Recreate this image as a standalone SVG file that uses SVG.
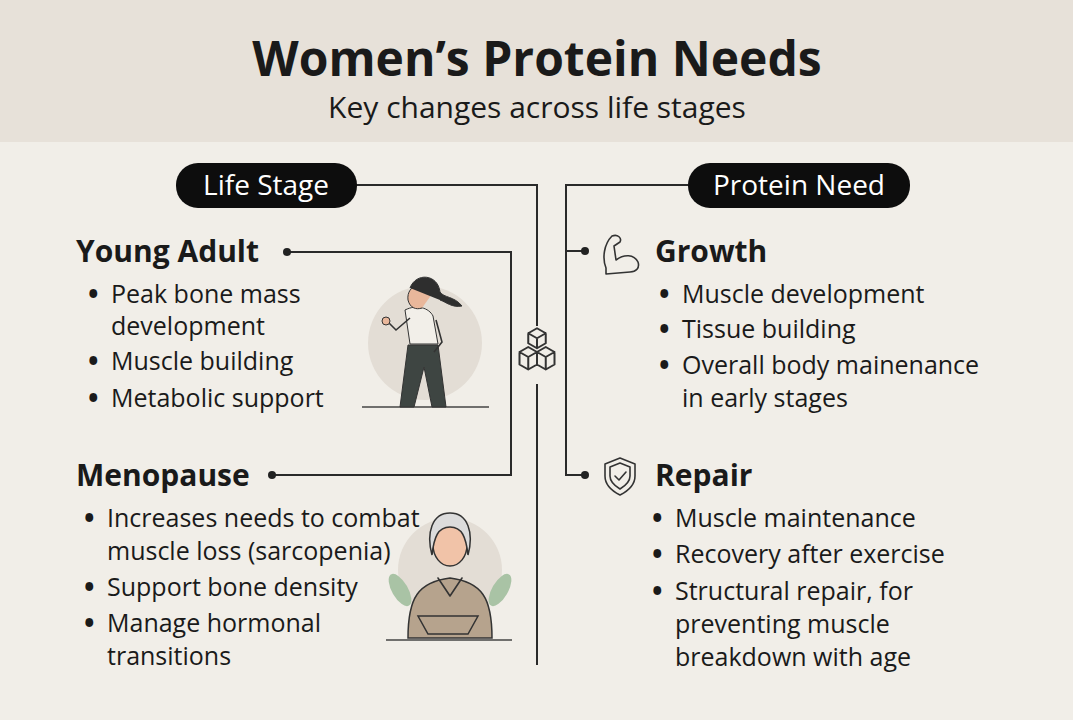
<svg xmlns="http://www.w3.org/2000/svg" width="1073" height="720" viewBox="0 0 1073 720">
<style>
text{font-family:"Open Sans","Liberation Sans",sans-serif;fill:#1a1a1a}
.h{font-size:30px;font-weight:700}
.b{font-size:25px}
.d{font-size:28px;font-weight:700}
.pill{font-size:28px;fill:#fff}
.ln{fill:none;stroke:#2a2a2a;stroke-width:2}
.ic{fill:none;stroke:#333;stroke-width:1.6;stroke-linejoin:round;stroke-linecap:round}
</style>
<rect width="1073" height="720" fill="#f1eee8"/>
<rect width="1073" height="142" fill="#e7e1d9"/>
<text x="537" y="76" text-anchor="middle" style="font-size:48px;font-weight:700">Women’s Protein Needs</text>
<text x="537" y="118" text-anchor="middle" style="font-size:30px">Key changes across life stages</text>
<g id="connectors">
<path class="ln" d="M355 185H537V326M537 384V665"/>
<path class="ln" d="M688 185H566V475H585M566 251H585"/>
<path class="ln" d="M287 252H511V475H272"/>
<circle cx="287" cy="252" r="4" fill="#222"/><circle cx="272" cy="475" r="4" fill="#222"/>
<circle cx="585" cy="251" r="4" fill="#222"/><circle cx="585" cy="475" r="4" fill="#222"/>
</g>
<g id="cube" class="ic" transform="translate(537 352) scale(1.25) translate(-537 -352)"><path d="M530 337l7-4 7 4v8l-7 4-7-4z M530 337l7 4 7-4M537 341v8 M523 352l7-4 7 4 7-4 7 4v10l-7 4-7-4-7 4-7-4z M523 352l7 4 7-4M530 356v10M537 352v10l7 4M544 356v10M537 352l7 4 7-4"/></g>
<g id="lifestage"><rect x="176" y="163" width="181" height="45" rx="22" fill="#0d0d0d"/><text class="pill" x="266" y="195" text-anchor="middle">Life Stage</text></g>
<g id="proteinneed"><rect x="688" y="163" width="222" height="45" rx="22" fill="#0d0d0d"/><text class="pill" x="799" y="195" text-anchor="middle">Protein Need</text></g>
<g id="young">
<text class="h" x="76" y="262">Young Adult</text>
<text class="d" x="88" y="304">•</text><text class="b" x="111" y="303">Peak bone mass</text>
<text class="b" x="111" y="335">development</text>
<text class="d" x="88" y="371">•</text><text class="b" x="111" y="370">Muscle building</text>
<text class="d" x="88" y="408">•</text><text class="b" x="111" y="407">Metabolic support</text>
<circle cx="425" cy="343" r="57" fill="#e3ddd5"/>
<line x1="362" y1="407" x2="489" y2="407" stroke="#444" stroke-width="1.5"/>
<path d="M405 310c12-6 24-2 28 6l5 28-28 0z" fill="#f2efe9" stroke="#333"/>
<path d="M408 345h30l8 62h-14l-8-40-10 40h-14z" fill="#3e4542" stroke="#333"/>
<path d="M432 294c-6-15-26-10-24 6 2 8 8 10 14 8" fill="#e9b79b" stroke="#333"/>
<path d="M410 288c6-16 28-14 30 4 4 6 14 4 22 14-10 2-16-4-22-6" fill="#2e2e2e" stroke="#333"/>
<path d="M410 318l-14 12-8-8M436 320l6 22-8 10" style="stroke:#333;fill:none;stroke-width:1.6"/>
<circle cx="386" cy="321" r="4" fill="#e9b79b" stroke="#333"/>
</g>
<g id="meno">
<text class="h" x="76" y="486">Menopause</text>
<text class="d" x="84" y="528">•</text><text class="b" x="107" y="527">Increases needs to combat</text>
<text class="b" x="107" y="560">muscle loss (sarcopenia)</text>
<text class="d" x="84" y="597">•</text><text class="b" x="107" y="596">Support bone density</text>
<text class="d" x="84" y="633">•</text><text class="b" x="107" y="632">Manage hormonal</text>
<text class="b" x="107" y="665">transitions</text>
<circle cx="450" cy="570" r="52" fill="#e3ddd5"/>
<ellipse cx="400" cy="590" rx="8" ry="18" fill="#a9c3a5" transform="rotate(-30 400 590)"/>
<ellipse cx="500" cy="590" rx="8" ry="18" fill="#a9c3a5" transform="rotate(30 500 590)"/>
<path d="M408 638c0-40 10-56 42-60 32 4 42 20 42 60z" fill="#b6a38d" stroke="#333" stroke-width="1.5"/>
<path d="M438 578l12 18 12-18" class="ic"/>
<path d="M418 616h60l-10 18h-40z" fill="#b6a38d" stroke="#333" stroke-width="1.5"/>
<ellipse cx="450" cy="545" rx="17" ry="21" fill="#f1c3a8" stroke="#333" stroke-width="1.5"/>
<path d="M432 555c-6-22 0-42 18-42 18 0 24 20 18 42-2-18-6-28-18-28-12 0-16 10-18 28z" fill="#dcdcdc" stroke="#333" stroke-width="1.5"/>
<line x1="386" y1="640" x2="512" y2="640" stroke="#444" stroke-width="1.5"/>
</g>
<g id="growth">
<path class="ic" d="M606 268c-4-10-2-24 6-32 6-2 10 2 8 6l-6 4 2 14c8-6 18-6 22 2 2 6-2 10-8 10l-24 2z"/>
<text class="h" x="655" y="262">Growth</text>
<text class="d" x="659" y="304">•</text><text class="b" x="682" y="303">Muscle development</text>
<text class="d" x="659" y="339">•</text><text class="b" x="682" y="338">Tissue building</text>
<text class="d" x="659" y="375">•</text><text class="b" x="682" y="374">Overall body mainenance</text>
<text class="b" x="682" y="407">in early stages</text>
</g>
<g id="repair">
<path class="ic" d="M620 458l15 6v12c0 9-7 15-15 19-8-4-15-10-15-19v-12z M620 463l10 4v9c0 6-5 10-10 13-5-3-10-7-10-13v-9z M615 476l4 4 7-8"/>
<text class="h" x="655" y="486">Repair</text>
<text class="d" x="652" y="528">•</text><text class="b" x="675" y="527">Muscle maintenance</text>
<text class="d" x="652" y="564">•</text><text class="b" x="675" y="563">Recovery after exercise</text>
<text class="d" x="652" y="601">•</text><text class="b" x="675" y="600">Structural repair, for</text>
<text class="b" x="675" y="633">preventing muscle</text>
<text class="b" x="675" y="666">breakdown with age</text>
</g>
</svg>
